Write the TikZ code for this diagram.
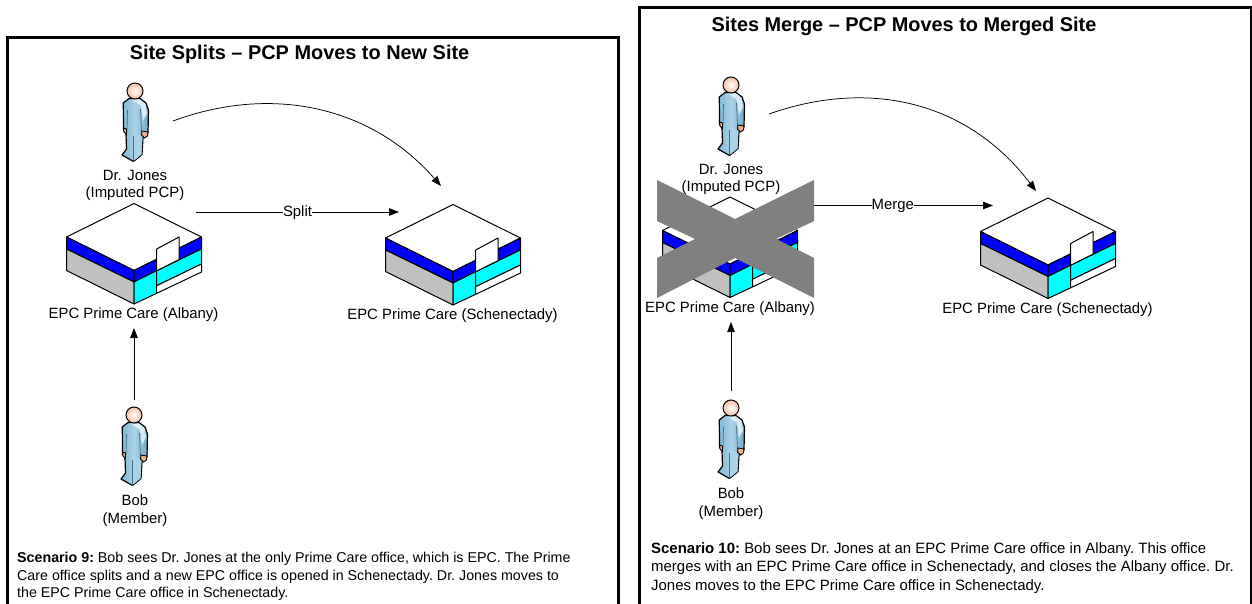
\documentclass[tikz,border=0pt]{standalone}
\usepackage{fontspec}
\setmainfont{Liberation Sans}
\usetikzlibrary{arrows.meta}
\begin{document}
\begin{tikzpicture}[x=1pt,y=-1pt,
  framebox/.style={draw=black,line width=3.2pt,line cap=butt,line join=miter},
  lbl/.style={align=center,font=\fontsize{14.9}{17.5}\selectfont,inner sep=0pt},
  ttl/.style={font=\fontsize{19.9}{22}\selectfont\bfseries,inner sep=0pt},
  paraA/.style={align=left,anchor=north west,font=\fontsize{14.25}{17.5}\selectfont\frenchspacing,inner sep=0pt},
  paraB/.style={align=left,anchor=north west,font=\fontsize{14.95}{18.9}\selectfont\frenchspacing,inner sep=0pt},
  conn/.style={draw=black,line width=0.75pt,-{Triangle[length=10pt,width=7.5pt]}},
  edge/.style={draw=black,line width=1pt,line join=round},
  person/.pic={
    \draw[draw=black,line width=1.2pt,line join=round,left color=personB,right color=personA,middle color=personC]
      (-11.7,12) -- (-6,7.5) -- (5,7.5) -- (11,12) -- (13.5,19) -- (13,42) -- (9,44.5) -- (8,47) -- (7,63.5) -- (-1.5,70.5) -- (-13,64) -- (-8.5,58) -- (-9,43) -- (-11.5,39) -- cycle;
    \fill[personC] (-1.5,70) -- (6.5,63.5) -- (7.5,46) -- (-2,40) -- cycle;
    \draw[line width=0.7pt,draw=personE] (-1.5,70.5) -- (-1.5,45) (5.5,18) -- (6.5,41) (-7.5,19) -- (-8,40);
    \fill[white,opacity=.7] (-3,8.5) -- (5,8.5) -- (10.5,13) -- (12,22) -- (8,30) -- (6,15) -- cycle;
    \draw[draw=black,line width=.9pt,fill=personF] (7,40) -- (13,41) -- (12.5,45) -- (9.5,47) -- (6.5,44) -- cycle;
    \draw[draw=black,line width=.9pt,fill=personF] (-11.5,37) -- (-8.5,38) -- (-8.5,43.5) -- (-11,41) -- cycle;
    \draw[draw=black,line width=1pt,inner color=white,outer color=personG] (0,0) circle (8);
  },
  building/.pic={
    \draw[edge,fill=white] (0,-33.5) -- (67.5,0) -- (0,33.5) -- (-67.5,0) -- cycle;
    \draw[edge,fill=bblue] (-67.5,0) -- (0,33.5) -- (0,45) -- (-67.5,12) -- cycle;
    \draw[edge,fill=bgray] (-67.5,12) -- (0,45) -- (0,67) -- (-67.5,33.5) -- cycle;
    \draw[edge,fill=bblue] (0,33.5) -- (67.5,0) -- (67.5,12) -- (0,45) -- cycle;
    \draw[edge,fill=bcyan] (0,45) -- (22.7,33.7) -- (22.7,56.3) -- (0,67) -- cycle;
    \draw[edge,fill=bcyan] (22.7,33.7) -- (67.5,12) -- (67.5,27) -- (22.7,48.7) -- cycle;
    \draw[edge,fill=white] (22.7,48.7) -- (67.5,27) -- (67.5,35) -- (22.7,56.3) -- cycle;
    \draw[edge,fill=white] (22.7,12) -- (45,0) -- (45,22.7) -- (22.7,33.7) -- cycle;
  }]
\definecolor{personA}{HTML}{6FA9C9}
\definecolor{personB}{HTML}{7FB6D3}
\definecolor{personC}{HTML}{A9D3E8}
\definecolor{personE}{HTML}{3F6F8C}
\definecolor{personF}{HTML}{EDB08E}
\definecolor{personG}{HTML}{F3BFA5}
\definecolor{bgray}{HTML}{C0C0C0}
\definecolor{bblue}{HTML}{0000FF}
\definecolor{bcyan}{HTML}{00FFFF}
\definecolor{xgray}{HTML}{808080}
\useasboundingbox (0,0) rectangle (1252,604);
\fill[white] (0,0) rectangle (1252,604);
% left panel
\coordinate (lbl) at (7.3,604); \coordinate (ltl) at (7.3,37.7);
\coordinate (ltr) at (618.3,37.7); \coordinate (lbr) at (618.3,604);
\draw[framebox] (lbl) -- (ltl) -- (ltr) -- (lbr);
\node[ttl] (t1) at (299.5,54) {Site Splits – PCP Moves to New Site};
\pic at (135,91) {person};
\node[lbl] (jones1) at (135,185.5) {Dr. Jones\\(Imputed PCP)};
\pic at (134,237) {building};
\node[lbl] (albany1) at (133.5,315) {EPC Prime Care (Albany)};
\coordinate (jonesR1) at (173,121);
\coordinate (splitL) at (196,212);
\coordinate (site1) at (441,186);
\coordinate (splitR) at (399,212);
\pic at (453,238) {building};
\node[lbl] (sch1) at (452.5,316) {EPC Prime Care (Schenectady)};
\draw[conn] (jonesR1) .. controls (270,85) and (370,105) .. (site1);
\draw[conn] (splitL) -- node[fill=white,lbl,yshift=-1pt] (split) {Split} (splitR);
\pic at (134,415) {person};
\node[lbl] (bob1) at (135,510.5) {Bob\\(Member)};
\coordinate (bobU1) at (134,400);
\coordinate (albU1) at (134,328);
\draw[conn] (bobU1) -- (albU1);
\node[paraA] (s9) at (17,552) {\textbf{Scenario 9:} Bob sees Dr. Jones at the only Prime Care office, which is EPC. The Prime\\Care office splits and a new EPC office is opened in Schenectady. Dr. Jones moves to\\the EPC Prime Care office in Schenectady.};
% right panel
\coordinate (rbl) at (639.7,604); \coordinate (rtl) at (639.7,7.3);
\coordinate (rtr) at (1251.5,7.3); \coordinate (rbr) at (1251.5,604);
\draw[framebox] (rbl) -- (rtl) -- (rtr) -- (rbr);
\node[ttl] (t2) at (904,26) {Sites Merge – PCP Moves to Merged Site};
\pic at (731,85) {person};
\node[lbl] (jones2) at (731,179.5) {Dr. Jones\\(Imputed PCP)};
\pic at (730,230.5) {building};
\coordinate (jonesR2) at (769,114);
\coordinate (mergeL) at (814,205.5);
\coordinate (site2) at (1036,191);
\coordinate (mergeR) at (993,205.5);
\fill[xgray] (657,180) -- (735,219) -- (814,180) -- (814,221) -- (776,239) -- (814,258) -- (814,298) -- (735,258) -- (657,298) -- (657,258) -- (695,239) -- (657,221) -- cycle;
\node[lbl] (albany2) at (730,309) {EPC Prime Care (Albany)};
\pic at (1048,231.5) {building};
\node[lbl] (sch2) at (1047.5,310) {EPC Prime Care (Schenectady)};
\draw[conn] (jonesR2) .. controls (865,80) and (965,98) .. (site2);
\draw[conn] (mergeL) -- node[pos=0.44,fill=white,lbl] (merge) {Merge} (mergeR);
\pic at (731,408) {person};
\node[lbl] (bob2) at (731,503.5) {Bob\\(Member)};
\coordinate (bobU2) at (731,391);
\coordinate (albU2) at (731,322);
\draw[conn] (bobU2) -- (albU2);
\node[paraB] (s10) at (651,542) {\textbf{Scenario 10:} Bob sees Dr. Jones at an EPC Prime Care office in Albany. This office\\merges with an EPC Prime Care office in Schenectady, and closes the Albany office. Dr.\\Jones moves to the EPC Prime Care office in Schenectady.};
\end{tikzpicture}
\end{document}
